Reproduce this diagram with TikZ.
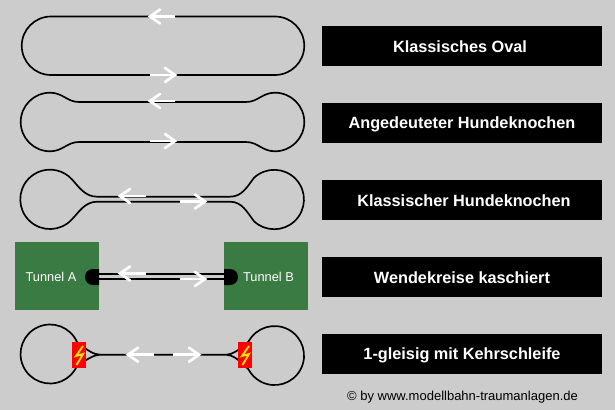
\documentclass[tikz,border=0pt]{standalone}
\usepackage{fontspec}
\setmainfont{Liberation Sans}
\usepackage{tikz}

\definecolor{bgrey}{HTML}{CCCCCC}
\definecolor{tgreen}{HTML}{3A7A43}
\tikzset{
    track/.style={draw=black, line width=1.25pt},
    dirarrow/.style={draw=white, line width=2pt},
    dirhead/.style={draw=white, line width=2pt, line cap=round},
    title/.style={fill=black, text=white, minimum width=210pt, minimum height=30pt, inner sep=0pt},
    titletext/.style={text=white, inner sep=0pt, yshift=-0.75pt, font=\fontsize{12.2pt}{14pt}\selectfont\bfseries},
    tunnel/.style={fill=tgreen, minimum width=63pt, minimum height=51pt, inner sep=0pt},
    tunneltext/.style={text=white, inner sep=0pt, font=\fontsize{9.6pt}{12pt}\selectfont},
    signal/.style={fill=red, minimum width=10.5pt, minimum height=19.5pt, inner sep=0pt}
}
% one direction arrow: tail, tip, height, sign of direction
\newcommand{\dirsign}[4]{
    \draw[dirarrow] (#1,#3) -- (#2,#3);
    \draw[dirhead] (#2+#4*10,#3-7) -- (#2,#3) -- (#2+#4*10,#3+7);
}
\newcommand{\bolt}[2]{
    \draw[yellow!85!orange, line width=1.4pt] (#1+4,#2-9) -- (#1-3,#2+1) -- (#1+4,#2-1) -- (#1-2.5,#2+10);
}

\begin{document}
\begin{tikzpicture}[x=0.75pt, y=-0.75pt]
    \fill[bgrey] (0,0) rectangle (615,410);
    \useasboundingbox (0,0) rectangle (615,410);

    % Oval
    \draw[track] (51,16.5) -- (275,16.5) arc[start angle=-90, end angle=90, radius=29.25]
        -- (51,75) arc[start angle=90, end angle=270, radius=29.25] -- cycle;
    \dirsign{175}{150}{16.5}{1}
    \dirsign{150}{175}{75}{-1}

    % Hundeknochen, angedeutet
    \draw[track] (79,102) -- (246,102)
        .. controls (258,102) and (262,92.7) .. (275,92.7)
        arc[start angle=-90, end angle=90, radius=29.3]
        .. controls (262,151.3) and (258,142) .. (246,142)
        -- (79,142)
        .. controls (67,142) and (63,151.3) .. (50,151.3)
        arc[start angle=90, end angle=270, radius=29.3]
        .. controls (63,92.7) and (67,102) .. (79,102) -- cycle;
    \dirsign{175}{150}{101}{1}
    \dirsign{150}{175}{141}{-1}

    % Hundeknochen, klassisch
    \draw[track] (97,196.7) -- (230,196.7)
        .. controls (242,196.7) and (247,187) .. (254,177.8)
        arc[start angle=-133, end angle=133, radius=29.7]
        .. controls (247,212) and (242,201.7) .. (230,201.7)
        -- (97,201.7)
        .. controls (85,201.7) and (79,212) .. (71.7,219.6)
        arc[start angle=43, end angle=317, radius=29.7]
        .. controls (79,187) and (85,196.7) .. (97,196.7) -- cycle;
    \dirsign{146}{120}{196}{1}
    \dirsign{180}{205}{201.5}{-1}

    % Wendekreise kaschiert
    \node[tunnel] (tunnela) at (57,276) {};
    \node[tunnel] (tunnelb) at (266,276) {};
    \node[tunneltext] (texta) at (51,276.5) {Tunnel A};
    \node[tunneltext] (textb) at (268.5,276.5) {Tunnel B};
    \fill[black] (99,269) -- (93,269) arc[start angle=270, end angle=90, radius=8] -- (99,285) -- cycle;
    \fill[black] (224,269) -- (230,269) arc[start angle=-90, end angle=90, radius=8] -- (224,285) -- cycle;
    \draw[track] (tunnela.east |- 0,274) -- (tunnelb.west |- 0,274);
    \draw[track] (tunnela.east |- 0,279) -- (tunnelb.west |- 0,279);
    \dirsign{146}{120}{273.5}{1}
    \dirsign{180}{205}{279}{-1}

    % 1-gleisig mit Kehrschleife
    \coordinate (forka) at (100,354.7);
    \coordinate (forkb) at (226,354.7);
    \draw[track] (forka) .. controls (94,354.5) and (88,351) .. (77,342)
        arc[start angle=-24, end angle=-336, radius=29.5]
        .. controls (88,358.5) and (94,355) .. (forka) -- (forkb)
        .. controls (232,354.5) and (238,351) .. (248.5,341.7)
        arc[start angle=-152, end angle=152, radius=29.5]
        .. controls (238,358.5) and (232,355) .. (forkb);
    \dirsign{154}{128}{354.7}{1}
    \dirsign{173}{199}{354.7}{-1}
    \node[signal] (signala) at (79,355) {};
    \node[signal] (signalb) at (245,355) {};
    \bolt{79}{355}
    \bolt{245}{355}

    % Titel
    \node[title] (oval) at (462,46) {};
    \node[title] (ange) at (462,123) {};
    \node[title] (klass) at (462,200) {};
    \node[title] (wende) at (462,277) {};
    \node[title] (kehr) at (462,354) {};
    \node[titletext] (ovaltext) at (460,46) {Klassisches Oval};
    \node[titletext] (angetext) at (ange) {Angedeuteter Hundeknochen};
    \node[titletext] (klasstext) at (464,200) {Klassischer Hundeknochen};
    \node[titletext] (wendetext) at (wende) {Wendekreise kaschiert};
    \node[titletext] (kehrtext) at (kehr) {1-gleisig mit Kehrschleife};
    \node[inner sep=0pt, font=\fontsize{9.75pt}{11pt}\selectfont] (copy) at (462.5,397) {© by www.modellbahn-traumanlagen.de};
\end{tikzpicture}
\end{document}
